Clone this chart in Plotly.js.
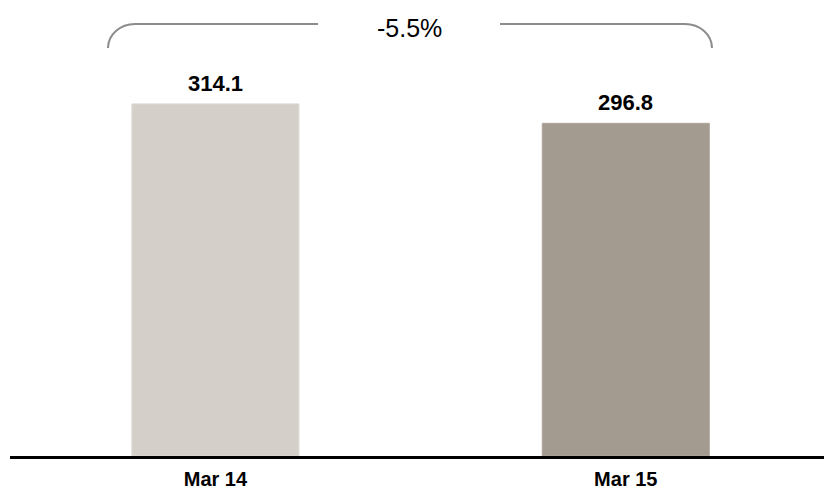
<!DOCTYPE html>
<html>
<head>
<meta charset="utf-8">
<script src="https://cdn.plot.ly/plotly-3.0.1.min.js"></script>
<style>html,body{margin:0;padding:0;background:#fff;}#chart{width:824px;height:490px;}</style>
</head>
<body>
<div id="chart"></div>
<script>
var categories = ["Mar 14", "Mar 15"];
var values = [314.1, 296.8];
var barColors = ["#D4D0C9", "#A39B90"];

var W = 824, H = 490;
var M = {l: 10, r: 0, t: 0, b: 34};
var pw = W - M.l - M.r, ph = H - M.t - M.b;
function PX(px) { return (px - M.l) / pw; }
function PY(py) { return (H - M.b - py) / ph; }

var change = (values[1] / values[0] - 1) * 100;
var changeText = (change > 0 ? "+" : "") + change.toFixed(1) + "%";

var font = "Liberation Sans, Arial, sans-serif";

function P(px, py) { return PX(px).toFixed(5) + "," + PY(py).toFixed(5); }
var k = 0.5523;
var leftPath = "M " + P(108, 48) + " C " + P(108, 48 - 24 * k) + " " + P(135 - 27 * k, 24) + " " + P(135, 24) + " L " + P(318, 24);
var rightPath = "M " + P(500, 24) + " L " + P(685, 24) + " C " + P(685 + 27 * k, 24) + " " + P(712, 48 - 24 * k) + " " + P(712, 48);

var trace = {
  type: "bar",
  x: categories,
  y: values,
  width: 0.407,
  marker: {color: barColors, line: {width: 1, color: ["#DCD9D3", "#ADA69C"]}},
  hoverinfo: "none"
};

var annotations = categories.map(function (c, i) {
  return {
    x: c, y: values[i], xref: "x", yref: "y",
    text: "<b>" + values[i].toFixed(1) + "</b>",
    showarrow: false, yanchor: "bottom", yshift: 6,
    font: {family: font, size: 22, color: "#000"}
  };
});
annotations.push({
  x: PX(409), y: PY(28), xref: "paper", yref: "paper",
  text: changeText, showarrow: false, xanchor: "center", yanchor: "middle",
  font: {family: font, size: 25, color: "#000"}
});

var layout = {
  width: W, height: H,
  margin: M,
  paper_bgcolor: "#fff", plot_bgcolor: "#fff",
  showlegend: false,
  xaxis: {
    type: "category",
    range: [-0.5006, 1.483],
    showline: true, linecolor: "#000", linewidth: 3,
    showgrid: false, zeroline: false, ticks: "",
    ticklabelstandoff: 3,
    tickfont: {family: font, size: 20, color: "#000", weight: "bold"},
    fixedrange: true
  },
  yaxis: {
    range: [0, 406.8],
    visible: false, showgrid: false, zeroline: false, fixedrange: true
  },
  shapes: [
    {type: "path", xref: "paper", yref: "paper", path: leftPath, line: {color: "#8C8C8C", width: 2}},
    {type: "path", xref: "paper", yref: "paper", path: rightPath, line: {color: "#8C8C8C", width: 2}}
  ],
  annotations: annotations
};

Plotly.newPlot("chart", [trace], layout, {displayModeBar: false, staticPlot: true});
</script>
</body>
</html>
